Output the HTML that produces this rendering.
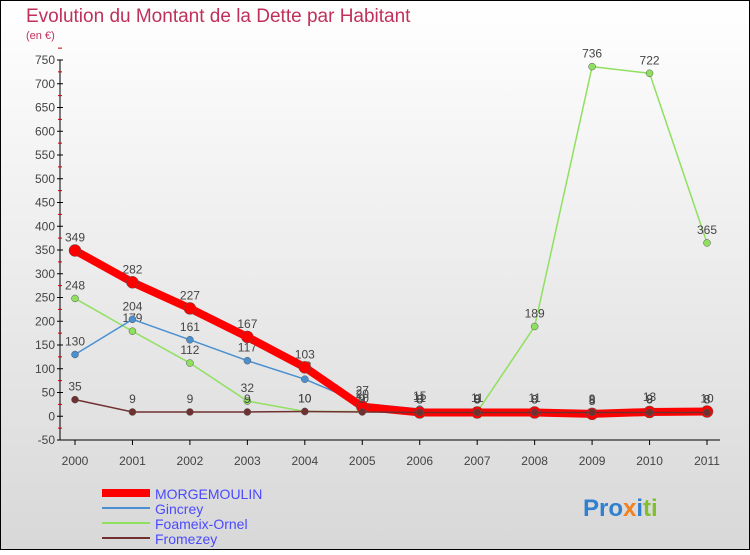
<!DOCTYPE html>
<html><head><meta charset="utf-8"><style>
body{margin:0}
svg text{font-family:"Liberation Sans",sans-serif}
</style></head><body>
<svg width="750" height="550" xmlns="http://www.w3.org/2000/svg">
<defs><linearGradient id="bg" x1="0" y1="0" x2="0" y2="1"><stop offset="0" stop-color="#ffffff"/><stop offset="1" stop-color="#d8d8d8"/></linearGradient></defs>
<rect x="0.5" y="0.5" width="749" height="549" fill="url(#bg)" stroke="#000"/>
<text x="26" y="22" font-size="19" fill="#c0305a">Evolution du Montant de la Dette par Habitant</text>
<text x="26" y="39" font-size="11" fill="#c0305a">(en €)</text>
<g id="axes"></g>
<g id="series"></g>
<g>
<line x1="102" y1="493" x2="150" y2="493" stroke="#f00" stroke-width="8"/><text x="155" y="499" font-size="14" fill="#4a4aff">MORGEMOULIN</text>
<line x1="102" y1="508" x2="150" y2="508" stroke="#4a90d0" stroke-width="2"/><text x="155" y="514" font-size="14" fill="#4a4aff">Gincrey</text>
<line x1="102" y1="523" x2="150" y2="523" stroke="#90e060" stroke-width="2"/><text x="155" y="529" font-size="14" fill="#4a4aff">Foameix-Ornel</text>
<line x1="102" y1="538" x2="150" y2="538" stroke="#703030" stroke-width="2"/><text x="155" y="544" font-size="14" fill="#4a4aff">Fromezey</text>
</g>
<text x="583" y="516" font-size="24" font-weight="bold"><tspan fill="#3080d0">Pro</tspan><tspan fill="#f08020">x</tspan><tspan fill="#3080d0">i</tspan><tspan fill="#80c030">ti</tspan></text>
</svg>
<script>
const years=[2000,2001,2002,2003,2004,2005,2006,2007,2008,2009,2010,2011];
const yTicks=[-50,0,50,100,150,200,250,300,350,400,450,500,550,600,650,700,750];
const morgemoulin=[349,282,227,167,103,20,8,8,8,5,9,10];
const gincrey=[130,204,161,117,78,27,15,11,11,9,13,8];
const foameix=[248,179,112,32,10,10,11,9,189,736,722,365];
const fromezey=[35,9,9,9,10,9,8,8,8,8,8,8];
const NS="http://www.w3.org/2000/svg";
const xS=i=>75+i*(707-75)/11;
const yS=v=>416.25-v*0.475;
function mk(t,a,p){const e=document.createElementNS(NS,t);for(const k in a)e.setAttribute(k,a[k]);p.appendChild(e);return e;}
const ax=document.getElementById('axes');
const yl=mk('line',{x1:60,y1:60,x2:60,y2:440,stroke:'#000'},ax);


yTicks.forEach(v=>{
 mk('line',{x1:57,y1:yS(v),x2:63,y2:yS(v),stroke:'#000'},ax);
 mk('line',{x1:58,y1:yS(v+25),x2:62,y2:yS(v+25),stroke:'#c00'},ax);
 const t=mk('text',{x:55,y:yS(v)+4,'font-size':12,fill:'#444','text-anchor':'end'},ax);t.textContent=v;
 
 
});
const xl=mk('line',{x1:60,y1:440,x2:720,y2:440,stroke:'#000'},ax);


years.forEach((y,i)=>{
 mk('line',{x1:xS(i),y1:440,x2:xS(i),y2:445,stroke:'#000'},ax);
 const t=mk('text',{x:xS(i),y:465,'font-size':12,fill:'#444','text-anchor':'middle'},ax);t.textContent=y;
 
 
});
const sg=document.getElementById('series');
function draw(vals,color,w,r,name){
 const g=mk('g',{},sg);
 
 
 mk('polyline',{points:vals.map((v,i)=>xS(i)+','+yS(v)).join(' '),fill:'none',stroke:color,'stroke-width':w,'stroke-linejoin':'round'},g);
 vals.forEach((v,i)=>{
  const c=mk('circle',{cx:xS(i),cy:yS(v),r:r,fill:color,stroke:'#555','stroke-width':0.5},g);
  
  
  const t=mk('text',{x:xS(i),y:yS(v)-9,'font-size':12,fill:'#444','text-anchor':'middle'},g);t.textContent=v;
  
  
 });
}
draw(foameix,'#90e060',1.5,3.5,'series-foameix');
draw(gincrey,'#4a90d0',1.5,3.5,'series-gincrey');
draw(morgemoulin,'#ff0000',8,6,'series-morgemoulin');
draw(fromezey,'#703030',1.5,3.5,'series-fromezey');
</script>
</body></html>
